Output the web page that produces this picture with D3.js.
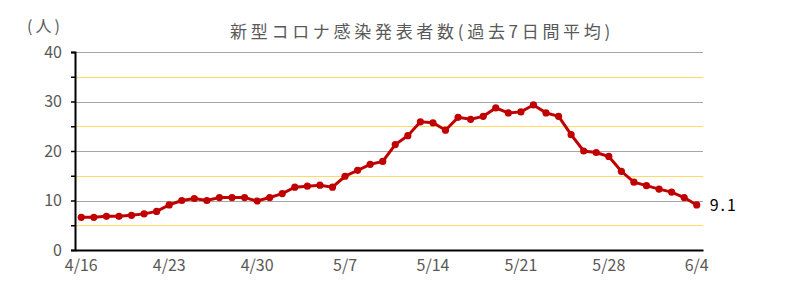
<!DOCTYPE html>
<html>
<head>
<meta charset="utf-8">
<script src="https://cdn.jsdelivr.net/npm/d3@7"></script>
<style>
  body { margin: 0; background: #fff; }
  text { font-family: "Noto Sans CJK JP", "Noto Sans", sans-serif; }
</style>
</head>
<body>
<script>
// data
var dates = [
  "4/16","4/17","4/18","4/19","4/20","4/21","4/22","4/23","4/24","4/25",
  "4/26","4/27","4/28","4/29","4/30","5/1","5/2","5/3","5/4","5/5",
  "5/6","5/7","5/8","5/9","5/10","5/11","5/12","5/13","5/14","5/15",
  "5/16","5/17","5/18","5/19","5/20","5/21","5/22","5/23","5/24","5/25",
  "5/26","5/27","5/28","5/29","5/30","5/31","6/1","6/2","6/3","6/4"
];
var avg7 = [
  6.6, 6.6, 6.8, 6.8, 7.0, 7.3, 7.8, 9.1, 10.0, 10.4,
  10.0, 10.6, 10.6, 10.6, 9.9, 10.6, 11.4, 12.7, 12.9, 13.1,
  12.7, 14.9, 16.1, 17.3, 17.9, 21.3, 23.1, 25.9, 25.7, 24.2,
  26.8, 26.4, 27.0, 28.7, 27.7, 27.9, 29.3, 27.7, 27.0, 23.3,
  20.0, 19.7, 18.9, 15.9, 13.7, 13.0, 12.3, 11.7, 10.6, 9.1
];
var xTickLabels = ["4/16","4/23","4/30","5/7","5/14","5/21","5/28","6/4"];
var yMajor = [0, 10, 20, 30, 40];
var yMinor = [5, 15, 25, 35];

var W = 791, H = 288;
var margin = { top: 52, right: 88, bottom: 38, left: 75 },
    width = W - margin.left - margin.right,
    height = H - margin.top - margin.bottom;

var svg = d3.select("body").append("svg")
    .attr("width", W)
    .attr("height", H);

var g = svg.append("g")
    .attr("transform", "translate(" + margin.left + "," + margin.top + ")");

var xScale = d3.scaleBand().domain(dates).range([0, width]);
var xMap = function (d) { return xScale(d) + xScale.bandwidth() / 2; };
var yScale = d3.scaleLinear().domain([0, 40]).range([height, 0]);

// gridlines
g.selectAll(".minor").data(yMinor).enter().append("line")
    .attr("x1", 0).attr("x2", width)
    .attr("y1", function (d) { return Math.round(yScale(d)) + 0.5; })
    .attr("y2", function (d) { return Math.round(yScale(d)) + 0.5; })
    .attr("stroke", "#ffd966").attr("stroke-width", 1);
g.selectAll(".major").data(yMajor.filter(function (d) { return d > 0; })).enter().append("line")
    .attr("x1", 0).attr("x2", width)
    .attr("y1", function (d) { return Math.round(yScale(d)) + 0.5; })
    .attr("y2", function (d) { return Math.round(yScale(d)) + 0.5; })
    .attr("stroke", "#a6a6a6").attr("stroke-width", 1);

// y axis
var yAxis = d3.axisLeft(yScale).tickValues(yMajor.concat(yMinor)).tickSize(4)
    .tickFormat(function (d) { return d % 10 === 0 ? d : ""; });
var yg = g.append("g").call(yAxis);
yg.select(".domain").attr("stroke", "#000").attr("stroke-width", 2);
yg.selectAll(".tick line").attr("stroke", "#000").attr("stroke-width", 1.5);
yg.selectAll(".tick text").attr("x", -13).attr("fill", "#595959")
    .style("font-size", "16px");

// x axis
var xAxis = d3.axisBottom(xScale).tickValues(xTickLabels).tickSize(0).tickPadding(10);
var xg = g.append("g").attr("transform", "translate(0," + height + ")").call(xAxis);
xg.select(".domain").attr("stroke", "#000").attr("stroke-width", 2);
xg.selectAll(".tick text").attr("fill", "#595959").style("font-size", "16px");

// line
var line = d3.line()
    .x(function (d, i) { return xMap(dates[i]); })
    .y(function (d) { return yScale(d); });
g.append("path").datum(avg7)
    .attr("fill", "none").attr("stroke", "#c00000").attr("stroke-width", 3)
    .attr("d", line);
g.selectAll(".pt").data(avg7).enter().append("circle")
    .attr("cx", function (d, i) { return xMap(dates[i]); })
    .attr("cy", function (d) { return yScale(d); })
    .attr("r", 3.6).attr("fill", "#c00000");

// last value label
var last = avg7.length - 1;
g.append("text")
    .attr("x", xMap(dates[last]) + 13)
    .attr("y", yScale(avg7[last]) + 6)
    .attr("fill", "#000").style("font-size", "16px").style("letter-spacing", "2px")
    .text(avg7[last].toFixed(1));

// title
svg.append("text")
    .attr("x", 422).attr("y", 38)
    .attr("text-anchor", "middle").attr("fill", "#595959")
    .style("font-size", "17px").style("letter-spacing", "3.7px")
    .text("新型コロナ感染発表者数(過去7日間平均)");

// unit
svg.append("text")
    .attr("x", 27).attr("y", 32)
    .attr("fill", "#595959").style("font-size", "16px").style("letter-spacing", "3px")
    .text("(人)");
</script>
</body>
</html>
